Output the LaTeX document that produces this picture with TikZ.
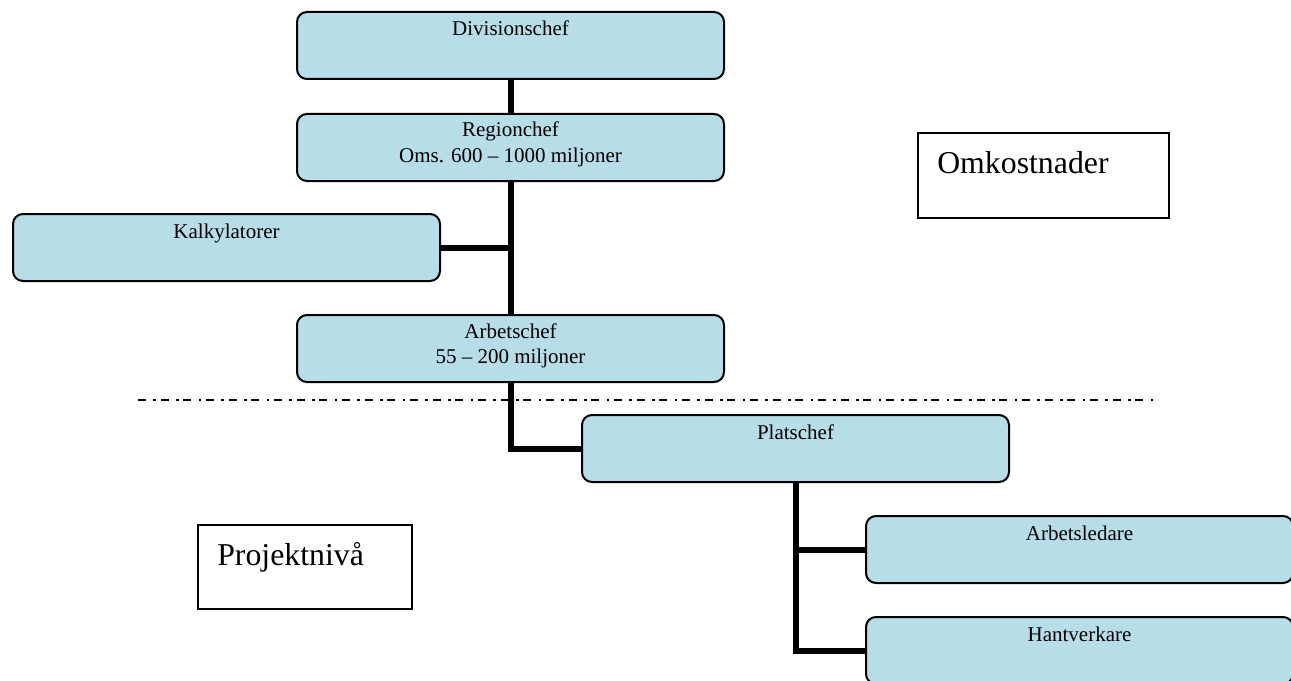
\documentclass[tikz,border=0pt]{standalone}
\usepackage{fontspec}
\setmainfont{Liberation Serif}
\usetikzlibrary{backgrounds}
\definecolor{boxblue}{HTML}{B6DDE8}
\begin{document}
\begin{tikzpicture}[x=0.75pt,y=-0.75pt,
  orgbox/.style={draw=black, line width=1.5pt, fill=boxblue, rounded corners=7.5pt,
    minimum width=320.25pt, minimum height=50.25pt, inner sep=0pt, anchor=north west},
  plainbox/.style={draw=black, line width=1.5pt, fill=white, inner sep=0pt, anchor=north west},
  lbl/.style={inner sep=0pt, anchor=base, font=\fontsize{15.75}{18.9}\selectfont},
  biglbl/.style={inner sep=0pt, anchor=base west, font=\fontsize{23.85}{28}\selectfont},
  conn/.style={draw=black, line width=4.5pt},
  sepline/.style={draw=black, line width=1.1pt, dash pattern=on 6pt off 5.5pt on 2pt off 3.5pt}
]
\clip (0,0) rectangle (1291,681);
\useasboundingbox (0,0) rectangle (1291,681);

% org boxes
\node[orgbox] (div) at (296,11) {};
\node[orgbox] (reg) at (296,113) {};
\node[orgbox] (kalk) at (12,213) {};
\node[orgbox] (arb) at (296,314) {};
\node[orgbox] (plat) at (581,414) {};
\node[orgbox] (led) at (865,515) {};
\node[orgbox] (hant) at (865,616) {};

% labels
\node[lbl] (divt) at ([yshift=-18.75pt]div.north) {Divisionschef};
\node[lbl] (regt1) at ([yshift=-18pt]reg.north) {Regionchef};
\node[lbl] (regt2) at ([yshift=-36.75pt]reg.north) {Oms. 600 – 1000 miljoner};
\node[lbl] (kalkt) at ([yshift=-18.75pt]kalk.north) {Kalkylatorer};
\node[lbl] (arbt1) at ([yshift=-18pt]arb.north) {Arbetschef};
\node[lbl] (arbt2) at ([yshift=-36.75pt]arb.north) {55 – 200 miljoner};
\node[lbl] (platt) at ([yshift=-18.75pt]plat.north) {Platschef};
\node[lbl] (ledt) at ([yshift=-18.75pt]led.north) {Arbetsledare};
\node[lbl] (hantt) at ([yshift=-18.75pt]hant.north) {Hantverkare};

% side boxes
\node[plainbox, minimum width=188.25pt, minimum height=63.75pt] (omk) at (917,132) {};
\node[biglbl] (omkt) at (937,173) {Omkostnader};
\node[plainbox, minimum width=160.5pt, minimum height=63pt] (proj) at (197,524) {};
\node[biglbl] (projt) at (217,565) {Projektnivå};

% separator
\coordinate (sepL) at (138,400);
\coordinate (sepR) at (1158,400);
\draw[sepline] (sepL) -- (sepR);

% connectors
\begin{scope}[on background layer]
  \draw[conn] (div.south) -- (arb.north);
  \draw[conn] (kalk.east) -- (kalk.east -| div.south);
  \draw[conn] (arb.south) |- (plat.west);
  \draw[conn] (plat.south) |- (led.west);
  \draw[conn] (plat.south) |- (hant.west);
\end{scope}
\end{tikzpicture}
\end{document}
